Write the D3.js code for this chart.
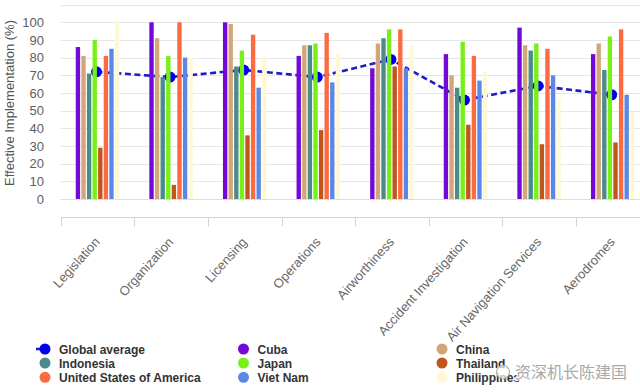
<!DOCTYPE html>
<html>
<head>
<meta charset="utf-8">
<script src="https://cdn.jsdelivr.net/npm/d3@7"></script>
<style>
  html, body { margin: 0; padding: 0; background: #fff; }
  svg { display: block; }
</style>
</head>
<body>
<svg id="chart" width="640" height="392"></svg>
<script>
// ---- data ----
const categories = ["Legislation", "Organization", "Licensing", "Operations", "Airworthiness",
  "Accident Investigation", "Air Navigation Services", "Aerodromes"];
const seriesNames = ["Cuba", "China", "Indonesia", "Japan", "Thailand",
  "United States of America", "Viet Nam", "Philippines"];
const cuba        = [86, 100, 100, 81, 74, 82, 97, 82];
const china       = [81, 91, 99, 87, 88, 70, 87, 88];
const indonesia   = [71, 69, 75, 87, 91, 63, 84, 73];
const japan       = [90, 81, 84, 88, 96, 89, 88, 92];
const thailand    = [29, 8, 36, 39, 75, 42, 31, 32];
const usa         = [81, 100, 93, 94, 96, 81, 85, 96];
const vietNam     = [85, 80, 63, 66, 74, 67, 70, 59];
const philippines = [100, 80, 81, 82, 87, 72, 56, 49];
const globalAverage = [72, 69, 73, 69, 79, 56, 64, 59];
const yTicks = [0, 10, 20, 30, 40, 50, 60, 70, 80, 90, 100];
const colors = ["#7209d6", "#d2a679", "#4b8c8a", "#78f018", "#c0561e", "#fb6a40", "#5b88e8", "#fff8d6"];
const avgLineColor = "#1c1cc8";
const avgDotColor = "#0000f0";

const seriesValues = [cuba, china, indonesia, japan, thailand, usa, vietNam, philippines];

const svg = d3.select("#chart");
const plotLeft = 60.7, plotRight = 649.5, plotBottom = 199, plotTop100 = 22.3;

const x0 = d3.scaleBand().domain(categories).range([plotLeft, plotRight]).paddingInner(0).paddingOuter(0);
const groupW = 43.5;
const x1 = d3.scaleBand().domain(seriesNames).range([0, groupW]).paddingInner(0.22).paddingOuter(0);
const y = d3.scaleLinear().domain([0, 100]).range([plotBottom, plotTop100]);
const groupStart = c => x0(c) + (x0.bandwidth() - groupW) / 2;
const groupCenter = c => x0(c) + x0.bandwidth() / 2;
const dotX = c => groupCenter(c) - 1;

// gridlines
const gridVals = yTicks.concat([110]);
svg.append("g").selectAll("line").data(gridVals).join("line")
  .attr("x1", plotLeft).attr("x2", 640)
  .attr("y1", d => Math.round(y(d)) + 0.5).attr("y2", d => Math.round(y(d)) + 0.5)
  .attr("stroke", d => d === 0 ? "#d8dde8" : "#e6e6e6").attr("stroke-width", 1);

// y axis labels
const yAxis = d3.axisLeft(y).tickValues(yTicks).tickSize(0).tickPadding(0);
const yg = svg.append("g").attr("transform", `translate(44,0)`).call(yAxis);
yg.select(".domain").remove();
yg.selectAll("text").attr("font-family", "Liberation Sans, Arial, sans-serif")
  .attr("font-size", 13).attr("fill", "#606060");

// y title
svg.append("text")
  .attr("transform", `translate(14,${(plotBottom + 5) / 2 + 1}) rotate(-90)`)
  .attr("text-anchor", "middle")
  .attr("font-family", "Liberation Sans, Arial, sans-serif")
  .attr("font-size", 13).attr("fill", "#555")
  .text("Effective Implementation (%)");

// global average line + dots (drawn beneath bars)
const lineGen = d3.line().x((d, i) => dotX(categories[i])).y(d => y(d));
svg.append("path").datum(globalAverage)
  .attr("d", lineGen).attr("fill", "none")
  .attr("stroke", avgLineColor).attr("stroke-width", 2.6)
  .attr("stroke-dasharray", "6,3.5");
svg.append("g").selectAll("circle").data(globalAverage).join("circle")
  .attr("cx", (d, i) => dotX(categories[i]))
  .attr("cy", d => y(d)).attr("r", 5.5).attr("fill", avgDotColor);

// bars
const groups = svg.append("g").selectAll("g").data(categories).join("g")
  .attr("transform", c => `translate(${groupStart(c)},0)`);
groups.selectAll("rect")
  .data((c, ci) => seriesNames.map((s, si) => ({ s, si, v: seriesValues[si][ci] })))
  .join("rect")
  .attr("x", d => x1(d.s)).attr("width", x1.bandwidth())
  .attr("y", d => y(d.v)).attr("height", d => plotBottom - y(d.v))
  .attr("fill", d => colors[d.si]);

// x axis
const axisY = 217.5;
const xg = svg.append("g");
xg.append("line").attr("x1", plotLeft).attr("x2", 640).attr("y1", axisY).attr("y2", axisY)
  .attr("stroke", "#ccd6eb").attr("stroke-width", 1);
xg.selectAll("line.tick").data(categories).join("line").attr("class", "tick")
  .attr("x1", c => Math.round(x0(c)) + 0.5).attr("x2", c => Math.round(x0(c)) + 0.5)
  .attr("y1", axisY).attr("y2", axisY + 9)
  .attr("stroke", "#ccd6eb").attr("stroke-width", 1);
xg.selectAll("text").data(categories).join("text")
  .attr("transform", c => `translate(${groupCenter(c) + 3},${axisY + 25}) rotate(-48)`)
  .attr("text-anchor", "end")
  .attr("font-family", "Liberation Sans, Arial, sans-serif")
  .attr("font-size", 13).attr("fill", "#666")
  .text(c => c);

// legend
const legendItems = [
  { name: "Global average", color: avgDotColor, line: true },
  { name: "Cuba", color: colors[0] },
  { name: "China", color: colors[1] },
  { name: "Indonesia", color: colors[2] },
  { name: "Japan", color: colors[3] },
  { name: "Thailand", color: colors[4] },
  { name: "United States of America", color: colors[5] },
  { name: "Viet Nam", color: colors[6] },
  { name: "Philippines", color: colors[7] }
];
const legCols = [45, 243.5, 442];
const legRows = [349, 363, 377.3];
const lg = svg.append("g").selectAll("g").data(legendItems).join("g")
  .attr("transform", (d, i) => `translate(${legCols[i % 3]},${legRows[Math.floor(i / 3)]})`);
lg.filter(d => d.line).append("line")
  .attr("x1", -9).attr("x2", 0).attr("y1", 0).attr("y2", 0)
  .attr("stroke", avgLineColor).attr("stroke-width", 2.6);
lg.append("circle").attr("r", 5.5).attr("fill", d => d.color);
lg.append("text").attr("x", 14).attr("y", 4.5)
  .attr("font-family", "Liberation Sans, Arial, sans-serif")
  .attr("font-weight", "bold").attr("font-size", 12).attr("fill", "#333")
  .text(d => d.name);

// watermark
const wm = svg.append("g").attr("transform", "translate(503,372)");
wm.append("circle").attr("r", 6.5).attr("fill", "rgba(255,255,255,0.7)")
  .attr("stroke", "#b0b0b0").attr("stroke-width", 1.2);
wm.append("text").attr("x", 12).attr("y", 6)
  .attr("font-family", "Noto Sans CJK SC, sans-serif").attr("font-size", 16)
  .attr("fill", "#a8a8a8").attr("stroke", "rgba(255,255,255,0.85)").attr("stroke-width", 3)
  .attr("paint-order", "stroke")
  .text("资深机长陈建国");
</script>
</body>
</html>
